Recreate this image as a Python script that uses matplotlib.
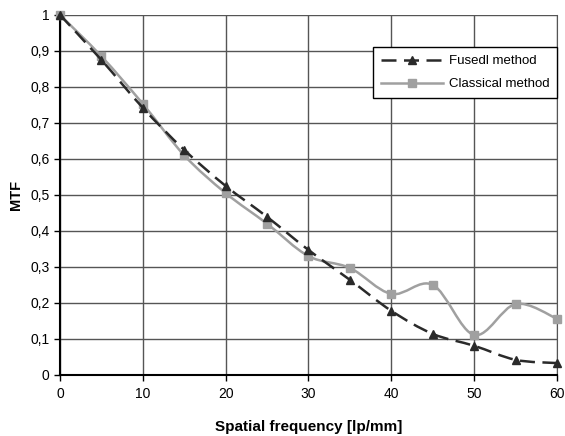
import matplotlib.pyplot as plt
import numpy as np
from matplotlib.path import Path
from matplotlib.patches import PathPatch
from matplotlib.ticker import FuncFormatter

plt.rcParams['font.family'] = ['Liberation Sans', 'DejaVu Sans']

freq = [0, 5, 10, 15, 20, 25, 30, 35, 40, 45, 50, 55, 60]
fused = [1.0, 0.875, 0.742, 0.625, 0.525, 0.439, 0.347, 0.264, 0.178, 0.114, 0.081, 0.042, 0.033]
classical = [1.0, 0.885, 0.753, 0.61, 0.505, 0.42, 0.33, 0.297, 0.225, 0.25, 0.111, 0.197, 0.156]


# Excel-style smoothed line: Catmull-Rom segments drawn as cubic Bezier curves
def smooth_path(x, y):
    x = np.asarray(x, float)
    y = np.asarray(y, float)
    n = len(x)
    verts = [(x[0], y[0])]
    codes = [Path.MOVETO]
    t = 1.0 / 6.0
    for i in range(n - 1):
        i0 = max(i - 1, 0)
        i3 = min(i + 2, n - 1)
        c1 = (x[i] + (x[i + 1] - x[i0]) * t, y[i] + (y[i + 1] - y[i0]) * t)
        c2 = (x[i + 1] - (x[i3] - x[i]) * t, y[i + 1] - (y[i3] - y[i]) * t)
        verts += [c1, c2, (x[i + 1], y[i + 1])]
        codes += [Path.CURVE4] * 3
    return Path(verts, codes)


def main():
    fig = plt.figure(figsize=(5.65, 4.36), dpi=100)
    ax = fig.add_axes([0.106, 0.140, 0.880, 0.826])

    gray = '#a0a0a0'
    dark = '#2a2a2a'
    dash = (0, (6, 3))

    ax.add_patch(PathPatch(smooth_path(freq, classical), fill=False,
                           edgecolor=gray, lw=1.8, zorder=3))
    ax.plot(freq, classical, ls='none', marker='s', ms=6, color=gray,
            zorder=4, clip_on=False)
    ax.add_patch(PathPatch(smooth_path(freq, fused), fill=False,
                           edgecolor=dark, lw=1.8, ls=dash, zorder=5))
    ax.plot(freq, fused, ls='none', marker='^', ms=6, color=dark,
            zorder=6, clip_on=False)

    # legend proxies
    ax.plot([], [], ls=dash, lw=1.8, marker='^', ms=6, color=dark,
            label='Fusedl method')
    ax.plot([], [], ls='-', lw=1.8, marker='s', ms=6, color=gray,
            label='Classical method')

    ax.set_xlim(0, 60)
    ax.set_ylim(0, 1)
    ax.set_xticks(np.arange(0, 61, 10))
    ax.set_yticks(np.arange(0, 1.01, 0.1))
    ax.yaxis.set_major_formatter(FuncFormatter(
        lambda v, p: '0' if abs(v) < 1e-9 else ('1' if abs(v - 1) < 1e-9 else ('%.1f' % v).replace('.', ','))))

    ax.grid(True, color='#555555', lw=1.0)
    ax.set_axisbelow(True)
    ax.spines['top'].set_visible(False)
    ax.spines['right'].set_color('#555555')
    ax.spines['left'].set_color('black')
    ax.spines['bottom'].set_color('black')
    ax.spines['left'].set_linewidth(1.5)
    ax.spines['bottom'].set_linewidth(1.5)
    ax.tick_params(axis='both', labelsize=10, length=4, width=1, direction='out',
                   colors='black')
    ax.tick_params(axis='x', pad=5)

    ax.set_xlabel('Spatial frequency [lp/mm]', fontsize=11, fontweight='bold', labelpad=13)
    ax.set_ylabel('MTF', fontsize=10.5, fontweight='bold', labelpad=5)

    leg = ax.legend(loc='upper right', bbox_to_anchor=(1.0, 0.91), borderaxespad=0,
                    fontsize=9.5, frameon=True, fancybox=False, edgecolor='black',
                    framealpha=1, handlelength=4.7, borderpad=0.6, labelspacing=0.8,
                    handletextpad=0.4)
    leg.get_frame().set_linewidth(1.0)

    fig.savefig('out.png', dpi=100)


if __name__ == "__main__": main()
